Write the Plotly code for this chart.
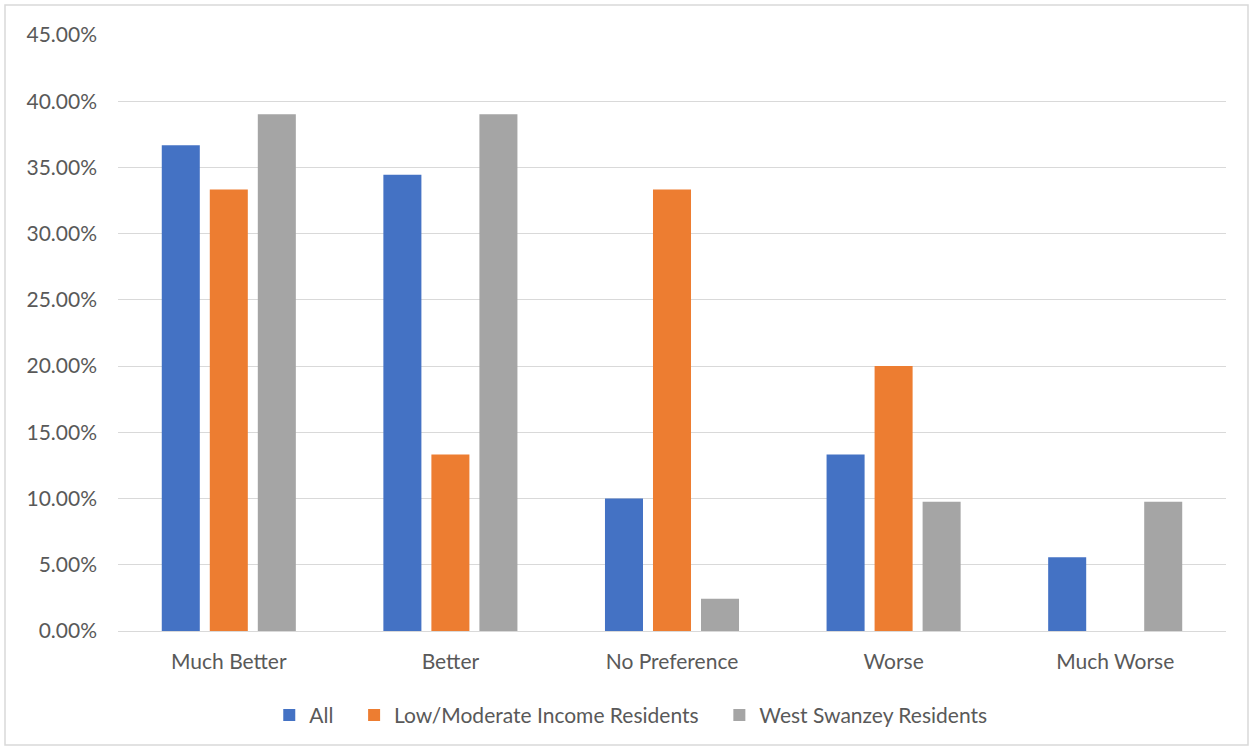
import plotly.graph_objects as go

categories = ["Much Better", "Better", "No Preference", "Worse", "Much Worse"]
all_vals = [0.3667, 0.3444, 0.1000, 0.1333, 0.0556]
low_mod_vals = [0.3333, 0.1333, 0.3333, 0.2000, 0.0]
west_swanzey_vals = [0.3902, 0.3902, 0.0244, 0.0976, 0.0976]
y_ticks = [0, 0.05, 0.10, 0.15, 0.20, 0.25, 0.30, 0.35, 0.40, 0.45]

series = [
    ("All", all_vals, "#4472C4"),
    ("Low/Moderate Income Residents", low_mod_vals, "#ED7D31"),
    ("West Swanzey Residents", west_swanzey_vals, "#A5A5A5"),
]

fig = go.Figure()
for name, vals, color in series:
    fig.add_trace(go.Bar(
        x=categories, y=vals, name=name + "\u2003",
        marker=dict(color=color, line=dict(width=0)),
    ))

W, H = 1253, 750
ml, mr, mt, mb = 118, 27, 35, 119
pw, ph = W - ml - mr, H - mt - mb
fs = 21

fig.update_layout(
    width=W, height=H,
    margin=dict(l=ml, r=mr, t=mt, b=mb),
    paper_bgcolor="white", plot_bgcolor="white",
    barmode="group", bargap=0.35, bargroupgap=0.208,
    font=dict(family="Lato, 'Open Sans', sans-serif", size=fs, color="#595959"),
    legend=dict(orientation="h", x=0.47, xanchor="center", y=-0.107, yanchor="top",
                font=dict(size=fs, color="#595959"), itemwidth=30,
                traceorder="normal"),
    xaxis=dict(showgrid=False, showline=False, ticks="", tickfont=dict(size=fs),
               ticklabelstandoff=16),
    yaxis=dict(range=[0, 0.45], tickvals=y_ticks, tickformat=".2%",
               showgrid=True, gridcolor="#D9D9D9", gridwidth=1,
               zeroline=True, zerolinecolor="#D9D9D9", zerolinewidth=1,
               showline=False, ticks="", ticklabelstandoff=20,
               tickfont=dict(size=fs)),
    shapes=[dict(type="rect", xref="paper", yref="paper",
                 x0=(5 - ml) / pw, x1=(1248 - ml) / pw,
                 y0=-(745 - (H - mb)) / ph, y1=((H - mb) - 5) / ph,
                 line=dict(color="#D9D9D9", width=1.5), fillcolor="rgba(0,0,0,0)",
                 layer="below")],
)

fig.write_html("out.html")
